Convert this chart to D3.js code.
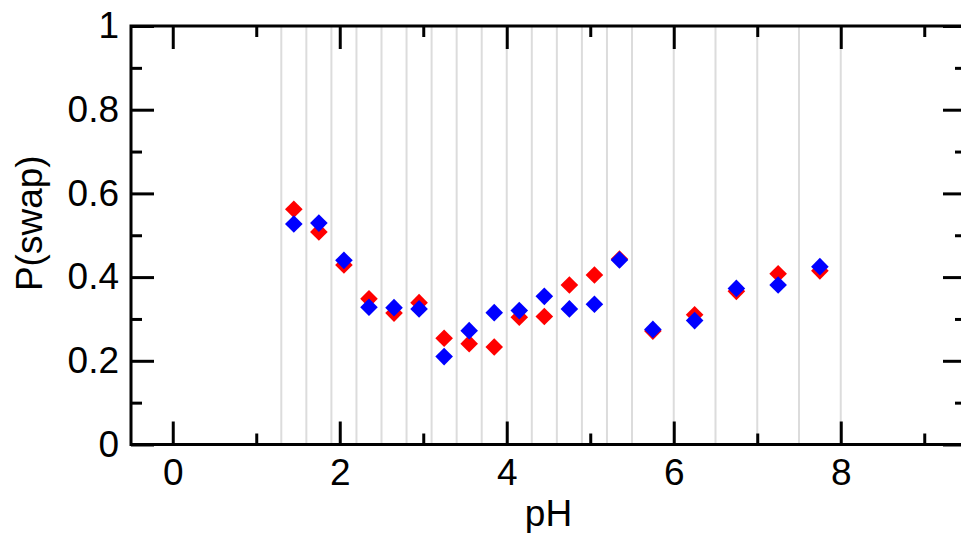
<!DOCTYPE html>
<html>
<head>
<meta charset="utf-8">
<script src="https://cdn.jsdelivr.net/npm/d3@7"></script>
<style>
  html, body { margin: 0; padding: 0; background: #fff; }
  svg { display: block; }
  text { font-family: "Liberation Sans", Arial, Helvetica, sans-serif; }
</style>
</head>
<body>
<svg id="chart" width="961" height="533"></svg>
<script>
// ---- data ----
const pH = [1.45, 1.75, 2.05, 2.35, 2.65, 2.95, 3.25, 3.55, 3.85, 4.15, 4.45, 4.75, 5.05, 5.35, 5.75, 6.25, 6.75, 7.25, 7.75];
const redSeries  = [0.562, 0.508, 0.429, 0.348, 0.314, 0.339, 0.254, 0.241, 0.233, 0.304, 0.306, 0.381, 0.405, 0.443, 0.271, 0.310, 0.366, 0.408, 0.415];
const blueSeries = [0.527, 0.529, 0.440, 0.328, 0.327, 0.324, 0.210, 0.272, 0.315, 0.320, 0.354, 0.324, 0.335, 0.441, 0.275, 0.296, 0.373, 0.381, 0.425];
const binEdges = [1.3, 1.6, 1.9, 2.2, 2.5, 2.8, 3.1, 3.4, 3.7, 4.0, 4.3, 4.6, 4.9, 5.2, 5.5, 6.0, 6.5, 7.0, 7.5, 8.0];
const xMajorTicks = [0, 2, 4, 6, 8];
const xMinorTicks = [1, 3, 5, 7, 9];
const yMajorTicks = [0, 0.2, 0.4, 0.6, 0.8, 1];
const yMinorTicks = [0.1, 0.3, 0.5, 0.7, 0.9];
const xLabel = "pH";
const yLabel = "P(swap)";

// ---- layout ----
const L = 131, R = 966, T = 26, B = 444.5;
const FS = "37px";
const svg = d3.select("#chart");
const x = d3.scaleLinear().domain([-0.5, 9.5]).range([L, R]);
const y = d3.scaleLinear().domain([0, 1]).range([B, T]);

const fmtY = v => (v === 0 ? "0" : v === 1 ? "1" : d3.format(".1f")(v));

// gridlines (bin edges)
svg.append("g").selectAll("line").data(binEdges).join("line")
  .attr("x1", d => x(d)).attr("x2", d => x(d))
  .attr("y1", T).attr("y2", B)
  .attr("stroke", "#dcdcdc").attr("stroke-width", 2);

function styleAxis(g) {
  g.select(".domain").remove();
  g.selectAll(".tick line").attr("stroke", "#000").attr("stroke-width", 3);
  g.selectAll(".tick text").attr("fill", "#000").style("font-size", FS)
    .style("font-family", "'Liberation Sans', Arial, Helvetica, sans-serif");
}

// bottom
svg.append("g").attr("transform", `translate(0,${B})`)
  .call(d3.axisBottom(x).tickValues(xMajorTicks).tickSizeInner(-23).tickSizeOuter(0).tickPadding(14).tickFormat(d3.format("d")))
  .call(styleAxis);
svg.append("g").attr("transform", `translate(0,${B})`)
  .call(d3.axisBottom(x).tickValues(xMinorTicks).tickSizeInner(-11).tickSizeOuter(0).tickFormat(""))
  .call(styleAxis);
// top
svg.append("g").attr("transform", `translate(0,${T})`)
  .call(d3.axisTop(x).tickValues(xMajorTicks).tickSizeInner(-23).tickSizeOuter(0).tickFormat(""))
  .call(styleAxis);
svg.append("g").attr("transform", `translate(0,${T})`)
  .call(d3.axisTop(x).tickValues(xMinorTicks).tickSizeInner(-11).tickSizeOuter(0).tickFormat(""))
  .call(styleAxis);
// left
svg.append("g").attr("transform", `translate(${L},0)`)
  .call(d3.axisLeft(y).tickValues(yMajorTicks).tickSizeInner(-23).tickSizeOuter(0).tickPadding(12).tickFormat(fmtY))
  .call(styleAxis);
svg.append("g").attr("transform", `translate(${L},0)`)
  .call(d3.axisLeft(y).tickValues(yMinorTicks).tickSizeInner(-11).tickSizeOuter(0).tickFormat(""))
  .call(styleAxis);
// right
svg.append("g").attr("transform", `translate(${R},0)`)
  .call(d3.axisRight(y).tickValues(yMajorTicks).tickSizeInner(-23).tickSizeOuter(0).tickFormat(""))
  .call(styleAxis);
svg.append("g").attr("transform", `translate(${R},0)`)
  .call(d3.axisRight(y).tickValues(yMinorTicks).tickSizeInner(-11).tickSizeOuter(0).tickFormat(""))
  .call(styleAxis);

// frame
svg.append("rect").attr("x", L).attr("y", T).attr("width", R - L).attr("height", B - T)
  .attr("fill", "none").attr("stroke", "#000").attr("stroke-width", 3);

// points
const diamond = d3.symbol().type(d3.symbolSquare).size(155);
function drawSeries(vals, color) {
  svg.append("g").selectAll("path").data(pH).join("path")
    .attr("d", diamond)
    .attr("transform", (d, i) => `translate(${x(d)},${y(vals[i])}) rotate(45)`)
    .attr("fill", color);
}
drawSeries(redSeries, "#ff0000");
drawSeries(blueSeries, "#0000ff");

// axis titles
svg.append("text").attr("x", (L + R) / 2).attr("y", 526)
  .attr("text-anchor", "middle").style("font-size", FS).attr("fill", "#000").text(xLabel);
svg.append("text").attr("transform", `translate(42,${(T + B) / 2 - 12}) rotate(-90)`)
  .attr("text-anchor", "middle").style("font-size", FS).attr("fill", "#000").text(yLabel);
</script>
</body>
</html>
